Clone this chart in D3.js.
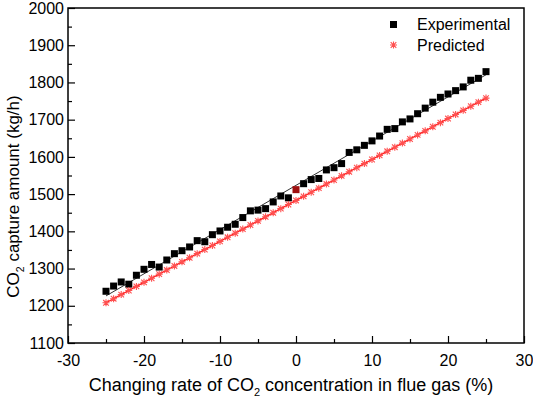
<!DOCTYPE html>
<html lang="en">
<head>
<meta charset="UTF-8">
<title>CO2 capture</title>
<style>
  body { margin: 0; background: #fff; }
  text { font-family: "Liberation Sans", Arial, sans-serif; fill: #000; }
</style>
</head>
<body>
<script src="https://d3js.org/d3.v7.min.js"></script>
<script>
// changing rate of CO2 concentration (%)
const rates = d3.range(-25, 26);
// experimental capture amount (kg/h)
const experimental = [1239, 1253, 1264, 1258, 1282, 1298, 1311, 1304, 1323, 1340,
                      1348, 1358, 1375, 1372, 1391, 1401, 1411, 1419, 1437, 1455,
                      1457, 1461, 1479, 1495, 1490, 1512, 1528, 1539, 1542, 1565,
                      1571, 1582, 1612, 1619, 1631, 1643, 1656, 1674, 1676, 1694,
                      1702, 1716, 1731, 1747, 1760, 1769, 1778, 1788, 1806, 1811, 1829];
// predicted capture amount (kg/h)
const predicted = [1208, 1219, 1230, 1241, 1252, 1263, 1274, 1285, 1296, 1307,
                   1318, 1329, 1340, 1351, 1362, 1373, 1384, 1395, 1406, 1417,
                   1428, 1439, 1450, 1461, 1472, 1483, 1494, 1505, 1516, 1527,
                   1538, 1549, 1560, 1571, 1582, 1593, 1604, 1615, 1626, 1637,
                   1648, 1659, 1670, 1681, 1692, 1703, 1714, 1725, 1736, 1747, 1758];
const xTicks = [-30, -20, -10, 0, 10, 20, 30];
const yTicks = [1100, 1200, 1300, 1400, 1500, 1600, 1700, 1800, 1900, 2000];
const legendNames = ["Experimental", "Predicted"];

const width = 533, height = 399;
const mLeft = 68, mRight = 524, mTop = 8, mBottom = 343;

const svg = d3.select("body").append("svg")
    .attr("width", width)
    .attr("height", height);

const x = d3.scaleLinear().domain([-30, 30]).range([mLeft, mRight]);
const y = d3.scaleLinear().domain([1100, 2000]).range([mBottom, mTop]);

// frame
svg.append("rect")
    .attr("x", mLeft).attr("y", mTop)
    .attr("width", mRight - mLeft).attr("height", mBottom - mTop)
    .attr("fill", "none").attr("stroke", "#000").attr("stroke-width", 1.5);

// axes, ticks pointing inward
const xAxis = svg.append("g").attr("transform", `translate(0,${mBottom})`)
    .call(d3.axisBottom(x).tickValues(xTicks).tickSizeInner(-7).tickSizeOuter(0).tickPadding(12).tickFormat(d => String(d)));
const xMinor = svg.append("g").attr("transform", `translate(0,${mBottom})`)
    .call(d3.axisBottom(x).tickValues(d3.range(-25, 30, 10)).tickSize(-4).tickFormat(""));
const yAxis = svg.append("g").attr("transform", `translate(${mLeft},0)`)
    .call(d3.axisLeft(y).tickValues(yTicks).tickSizeInner(-7).tickSizeOuter(0).tickPadding(4).tickFormat(d => String(d)));
const yMinor = svg.append("g").attr("transform", `translate(${mLeft},0)`)
    .call(d3.axisLeft(y).tickValues(d3.range(1150, 2000, 100)).tickSize(-4).tickFormat(""));

[xAxis, xMinor, yAxis, yMinor].forEach(g => {
    g.select(".domain").remove();
    g.selectAll("line").attr("stroke", "#000").attr("stroke-width", 1.2);
    g.selectAll("text").attr("font-size", 16).attr("font-family", "Liberation Sans, Arial, sans-serif");
});

// linear fit of experimental data
const mx = d3.mean(rates), my = d3.mean(experimental);
const slope = d3.sum(rates, (r, i) => (r - mx) * (experimental[i] - my)) / d3.sum(rates, r => (r - mx) * (r - mx));
const icpt = my - slope * mx;
svg.append("line")
    .attr("x1", x(-25)).attr("y1", y(icpt + slope * -25))
    .attr("x2", x(25)).attr("y2", y(icpt + slope * 25))
    .attr("stroke", "#333").attr("stroke-width", 1);

// predicted line
svg.append("path")
    .datum(predicted)
    .attr("d", d3.line().x((d, i) => x(rates[i])).y(d => y(d)))
    .attr("fill", "none").attr("stroke", "#ff1a1a").attr("stroke-width", 1.3);

function asterisk(g, cx, cy) {
    const s = 3.5;
    g.append("path")
        .attr("d", `M${cx - s},${cy}H${cx + s}M${cx},${cy - s}V${cy + s}M${cx - s * 0.8},${cy - s * 0.8}L${cx + s * 0.8},${cy + s * 0.8}M${cx - s * 0.8},${cy + s * 0.8}L${cx + s * 0.8},${cy - s * 0.8}`)
        .attr("stroke", "#ff5050").attr("stroke-width", 1.1).attr("fill", "none");
}

// experimental squares (base case at 0% drawn dark red)
svg.append("g").selectAll("rect")
    .data(experimental)
    .join("rect")
    .attr("x", (d, i) => x(rates[i]) - 3.5)
    .attr("y", d => y(d) - 3.5)
    .attr("width", 7).attr("height", 7)
    .attr("fill", (d, i) => rates[i] === 0 ? "#a01010" : "#000");

// predicted asterisks
const pg = svg.append("g");
predicted.forEach((d, i) => asterisk(pg, x(rates[i]), y(d)));

// legend
svg.append("rect").attr("x", 390).attr("y", 21).attr("width", 7).attr("height", 7).attr("fill", "#000");
asterisk(svg, 393.5, 45);
svg.selectAll(".leg")
    .data(legendNames)
    .join("text")
    .attr("class", "leg")
    .attr("x", 417)
    .attr("y", (d, i) => 30 + i * 20.5)
    .attr("font-size", 16)
    .text(d => d);

// axis titles
const xt = svg.append("text")
    .attr("x", (mLeft + mRight) / 2 - 5)
    .attr("y", 391)
    .attr("text-anchor", "middle")
    .attr("font-size", 18);
xt.append("tspan").text("Changing rate of CO");
xt.append("tspan").attr("font-size", 11).attr("dy", 5).text("2");
xt.append("tspan").attr("dy", -5).text(" concentration in flue gas (%)");

const yt = svg.append("text")
    .attr("transform", `translate(19,${(mTop + mBottom) / 2 + 21}) rotate(-90)`)
    .attr("text-anchor", "middle")
    .attr("font-size", 17);
yt.append("tspan").text("CO");
yt.append("tspan").attr("font-size", 10.5).attr("dy", 5).text("2");
yt.append("tspan").attr("dy", -5).text(" capture amount (kg/h)");
</script>
</body>
</html>
